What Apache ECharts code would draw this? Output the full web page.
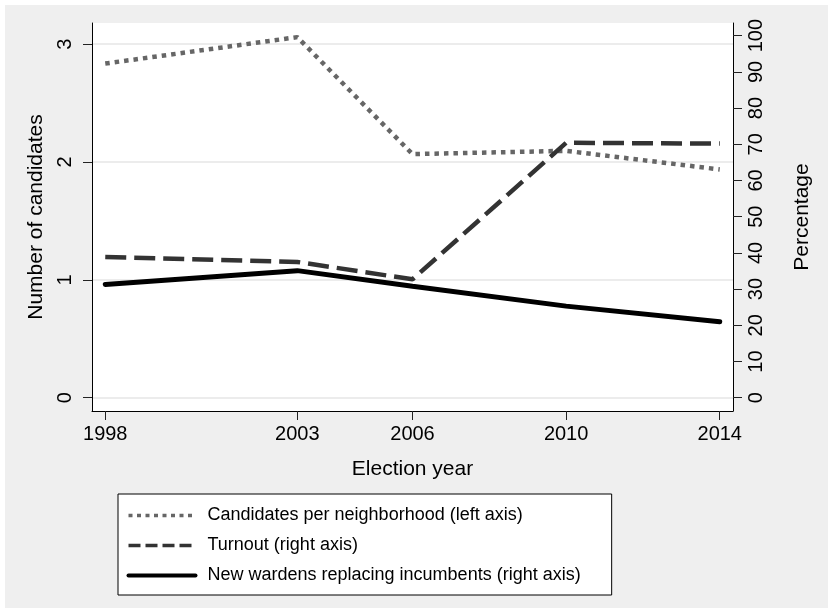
<!DOCTYPE html>
<html>
<head>
<meta charset="utf-8">
<script src="https://cdn.jsdelivr.net/npm/echarts@6/dist/echarts.min.js"></script>
<style>
  html, body { margin: 0; padding: 0; background: #fff; }
  #wrap { position: relative; width: 828px; height: 608px; background: #fff; }
  #bg { position: absolute; left: 5px; top: 5px; right: 0; bottom: 0; background: #efefef; }
  #chart { position: absolute; left: 0; top: 0; width: 828px; height: 608px; }
</style>
</head>
<body>
<div id="wrap"><div id="bg"></div><div id="chart"></div></div>
<script>
// ---- data ----
const years = [1998, 2003, 2006, 2010, 2014];
const candidatesPerNeighborhood = [2.836, 3.06, 2.067, 2.095, 1.937]; // left axis
const turnout = [38.9, 37.5, 32.7, 70.4, 70.2];                         // right axis (%)
const newWardens = [31.3, 35.1, 30.8, 25.3, 21.0];                      // right axis (%)
const xTicks = [1998, 2003, 2006, 2010, 2014];
const leftTicks = [0, 1, 2, 3];
const rightTicks = [0, 10, 20, 30, 40, 50, 60, 70, 80, 90, 100];
const seriesNames = [
  'Candidates per neighborhood (left axis)',
  'Turnout (right axis)',
  'New wardens replacing incumbents (right axis)'
];
const xTitle = 'Election year';
const leftTitle = 'Number of candidates';
const rightTitle = 'Percentage';

const FONT = 'Liberation Sans, Arial, Helvetica, sans-serif';
const pair = (xs, ys) => xs.map((x, i) => [x, ys[i]]);

const chart = echarts.init(document.getElementById('chart'), null, { renderer: 'canvas' });

const hiddenSymbol = { color: 'transparent', borderWidth: 0, borderColor: 'transparent', opacity: 0 };

const option = {
  animation: false,
  backgroundColor: 'transparent',
  textStyle: { fontFamily: FONT },
  grid: {
    left: 92, top: 23, width: 641, height: 388,
    show: true, backgroundColor: '#ffffff', borderWidth: 0
  },
  xAxis: {
    type: 'value',
    min: 1997.655, max: 2014.345,
    name: xTitle, nameLocation: 'middle', nameGap: 48,
    nameTextStyle: { fontSize: 21, color: '#000', fontFamily: FONT },
    axisLine: { show: true, onZero: false, lineStyle: { color: '#000', width: 1 } },
    axisTick: { show: true, length: 9, customValues: xTicks, lineStyle: { color: '#222', width: 1 } },
    axisLabel: { customValues: xTicks, fontSize: 20, color: '#000', margin: 13, fontFamily: FONT,
                 formatter: v => String(v) },
    splitLine: { show: false }
  },
  yAxis: [
    {
      type: 'value', position: 'left',
      min: -0.113, max: 3.18,
      name: leftTitle, nameLocation: 'middle', nameGap: 35,
      nameTextStyle: { fontSize: 21, color: '#000', fontFamily: FONT },
      axisLine: { show: true, onZero: false, lineStyle: { color: '#000', width: 1 } },
      axisTick: { show: true, length: 9, customValues: leftTicks, lineStyle: { color: '#222', width: 1 } },
      axisLabel: { customValues: leftTicks, rotate: 90, fontSize: 20, color: '#000', margin: 17, fontFamily: FONT },
      splitLine: { show: true, lineStyle: { color: '#e6e6e6', width: 1.5 } }
    },
    {
      type: 'value', position: 'right',
      min: -3.67, max: 103.5,
      name: rightTitle, nameLocation: 'middle', nameGap: 59,
      nameTextStyle: { fontSize: 21, color: '#000', fontFamily: FONT },
      axisLine: { show: true, onZero: false, lineStyle: { color: '#000', width: 1 } },
      axisTick: { show: true, length: 9, customValues: rightTicks, lineStyle: { color: '#222', width: 1 } },
      axisLabel: { customValues: rightTicks, rotate: 90, fontSize: 20, color: '#000', margin: 13, fontFamily: FONT },
      splitLine: { show: false }
    }
  ],
  legend: {
    orient: 'vertical',
    left: 118, top: 494,
    padding: [12.5, 31, 10.5, 8.5],
    backgroundColor: '#ffffff',
    borderColor: '#000', borderWidth: 1,
    itemWidth: 67, itemHeight: 14, itemGap: 12,
    selectedMode: false,
    textStyle: { fontSize: 18, color: '#000', fontFamily: FONT, padding: [0, 0, 0, 7] },
    data: [
      { name: seriesNames[0], itemStyle: hiddenSymbol, lineStyle: { color: '#666', width: 3.5, type: [4, 4.5], cap: 'butt', opacity: 1 } },
      { name: seriesNames[1], itemStyle: hiddenSymbol, lineStyle: { color: '#333', width: 3.5, type: [12, 5], cap: 'butt', opacity: 1 } },
      { name: seriesNames[2], itemStyle: hiddenSymbol, lineStyle: { color: '#000', width: 4, type: 'solid', opacity: 1 } }
    ]
  },
  series: [
    {
      name: seriesNames[0], type: 'line', yAxisIndex: 0,
      data: pair(years, candidatesPerNeighborhood),
      symbol: 'none', showSymbol: false,
      itemStyle: { color: '#666' },
      lineStyle: { color: '#666', width: 4.5, type: [4.5, 5], cap: 'butt' }
    },
    {
      name: seriesNames[1], type: 'line', yAxisIndex: 1,
      data: pair(years, turnout),
      symbol: 'none', showSymbol: false,
      itemStyle: { color: '#333' },
      lineStyle: { color: '#333', width: 4.5, type: [21, 8], cap: 'butt' }
    },
    {
      name: seriesNames[2], type: 'line', yAxisIndex: 1,
      data: pair(years, newWardens),
      symbol: 'none', showSymbol: false,
      itemStyle: { color: '#000' },
      lineStyle: { color: '#000', width: 5, type: 'solid', cap: 'round' }
    }
  ]
};
chart.setOption(option);
</script>
</body>
</html>
